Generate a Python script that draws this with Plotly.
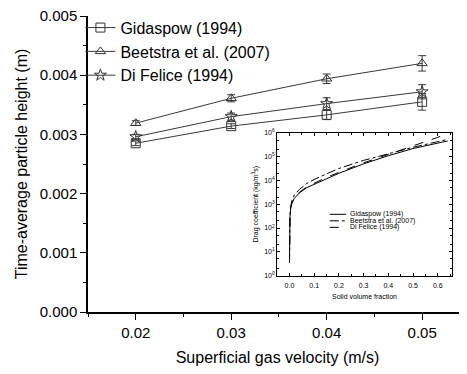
import plotly.graph_objects as go

# ---- main chart data ----
velocity = [0.02, 0.03, 0.04, 0.05]
gidaspow_h = [0.00285, 0.00314, 0.00333, 0.00355]
gidaspow_err = [0.00004, 0.00004, 0.00008, 0.00014]
beetstra_h = [0.00319, 0.00361, 0.00394, 0.00420]
beetstra_err = [0.00004, 0.00006, 0.00008, 0.00013]
difelice_h = [0.00296, 0.00330, 0.00352, 0.00372]
difelice_err = [0.00004, 0.00006, 0.00010, 0.00012]
series_names = ["Gidaspow (1994)", "Beetstra et al. (2007)", "Di Felice (1994)"]

# ---- inset data (drag coefficient vs solid volume fraction) ----
inset_x = [0.0, 0.0, 0.002, 0.005, 0.01, 0.02, 0.04, 0.07, 0.1, 0.15, 0.2, 0.3, 0.4, 0.5, 0.6, 0.64]
inset_gidaspow = [3.5, 30, 300, 700, 1100, 1800, 3000, 5000, 7000, 12000, 20000, 50000, 110000, 220000, 380000, 460000]
inset_beetstra = [3.5, 30, 330, 800, 1400, 2500, 4200, 7500, 11000, 19000, 32000, 70000, 130000, 250000, 430000, 530000]
inset_difelice = [3.5, 30, 310, 730, 1150, 1900, 3200, 5400, 7800, 13500, 22000, 55000, 125000, 280000, 650000, 950000]

FONT = "Arial, Liberation Sans, sans-serif"
LINE_COL = "#3a3a3a"

fig = go.Figure()

symbols = ["square-open", "triangle-up-open", "star-open"]
for name, ys, err, sym in zip(series_names,
                              [gidaspow_h, beetstra_h, difelice_h],
                              [gidaspow_err, beetstra_err, difelice_err],
                              symbols):
    fig.add_trace(go.Scatter(
        x=velocity, y=ys, name=name, mode="lines+markers",
        line=dict(color=LINE_COL, width=1),
        marker=dict(symbol=sym, size=9, color="#333", line=dict(width=1)),
        error_y=dict(type="data", array=err, visible=True, color=LINE_COL, thickness=1, width=4),
        xaxis="x", yaxis="y",
    ))

dashes = ["solid", "dashdot", "dash"]
for name, ys, d in zip(series_names, [inset_gidaspow, inset_beetstra, inset_difelice], dashes):
    fig.add_trace(go.Scatter(
        x=inset_x, y=ys, name=name, mode="lines", showlegend=False,
        line=dict(color="black", width=1, dash=d),
        xaxis="x2", yaxis="y2",
    ))

XR = [0.015, 0.0547]
YR = [0, 0.005]

fig.update_layout(
    width=459, height=366,
    margin=dict(l=80, r=0, t=8, b=62, autoexpand=False),
    paper_bgcolor="white", plot_bgcolor="white",
    font=dict(family=FONT, color="black", size=15),
    showlegend=True,
    legend=dict(x=-0.02, y=1.018, xanchor="left", yanchor="top",
                bgcolor="rgba(0,0,0,0)", font=dict(size=16, family=FONT),
                itemwidth=30, tracegroupgap=0),
    xaxis=dict(range=XR, dtick=0.01, tick0=0.02, tickformat=".2f", automargin=False,
               showline=True, linecolor="black", linewidth=1.5,
               ticks="outside", ticklen=6, tickcolor="black",
               minor=dict(ticks="outside", ticklen=3, dtick=0.005, tick0=0.015, tickcolor="black"),
               showgrid=False, zeroline=False,
               title=dict(text="Superficial gas velocity (m/s)", font=dict(size=16), standoff=12),
               tickfont=dict(size=15)),
    yaxis=dict(range=YR, tickvals=[0, 0.001, 0.002, 0.003, 0.004, 0.005], tickformat=".3f",
               automargin=False, ticklabeloverflow="allow",
               showline=True, linecolor="black", linewidth=1.5,
               ticks="outside", ticklen=6, tickcolor="black",
               minor=dict(ticks="outside", ticklen=3, dtick=0.0005, tickcolor="black"),
               showgrid=False, zeroline=False,
               title=dict(text="Time-average particle height (m)", font=dict(size=16), standoff=8),
               tickfont=dict(size=15)),
    xaxis3=dict(range=XR, overlaying="x", anchor="y", side="top", dtick=0.01, tick0=0.02,
                automargin=False,
                showline=True, linecolor="black", linewidth=1.5,
                ticks="inside", ticklen=5, tickcolor="black",
                minor=dict(ticks="inside", ticklen=3, dtick=0.005, tick0=0.015, tickcolor="black"),
                showticklabels=False, showgrid=False, zeroline=False),
    yaxis3=dict(range=YR, overlaying="y", anchor="x", side="right", dtick=0.001,
                automargin=False, showline=False,
                ticks="inside", ticklen=5, tickcolor="black",
                minor=dict(ticks="inside", ticklen=3, dtick=0.0005, tickcolor="black"),
                showticklabels=False, showgrid=False, zeroline=False),
    xaxis2=dict(domain=[0.499, 0.960], anchor="y2", range=[-0.05, 0.657],
                dtick=0.1, tick0=0, tickformat=".1f", automargin=False,
                showline=True, mirror="ticks", linecolor="black", linewidth=1,
                ticks="inside", ticklen=3, tickcolor="black",
                minor=dict(ticks="inside", ticklen=2, dtick=0.05, tickcolor="black"),
                showgrid=False, zeroline=False,
                tickfont=dict(size=7), ticklabelstandoff=3,
                title=dict(text="Solid volume fraction", font=dict(size=7), standoff=6)),
    yaxis2=dict(domain=[0.123, 0.605], anchor="x2", type="log", range=[0, 6], automargin=False,
                tickvals=[1, 10, 100, 1000, 1e4, 1e5, 1e6],
                ticktext=["10<sup>0</sup>", "10<sup>1</sup>", "10<sup>2</sup>", "10<sup>3</sup>",
                          "10<sup>4</sup>", "10<sup>5</sup>", "10<sup>6</sup>"],
                showline=True, mirror="ticks", linecolor="black", linewidth=1,
                ticks="inside", ticklen=3, tickcolor="black",
                minor=dict(ticks="inside", ticklen=2, tickcolor="black"),
                showgrid=False, zeroline=False,
                tickfont=dict(size=7),
                title=dict(text="Drag coefficient (kg/m<sup>3</sup>s)", font=dict(size=7), standoff=4)),
)

# inset legend (drawn manually because plotly legend rows cannot be this tight)
leg_rows = [0.330, 0.308, 0.286]
for name, d, yy in zip(series_names, dashes, leg_rows):
    fig.add_shape(type="line", xref="paper", yref="paper", x0=0.638, x1=0.681, y0=yy, y1=yy,
                  line=dict(color="black", width=1, dash=d))
    fig.add_annotation(xref="paper", yref="paper", x=0.685, y=yy, text=name, showarrow=False,
                       xanchor="left", yanchor="middle", font=dict(size=7, family=FONT))

fig.write_html("out.html")
